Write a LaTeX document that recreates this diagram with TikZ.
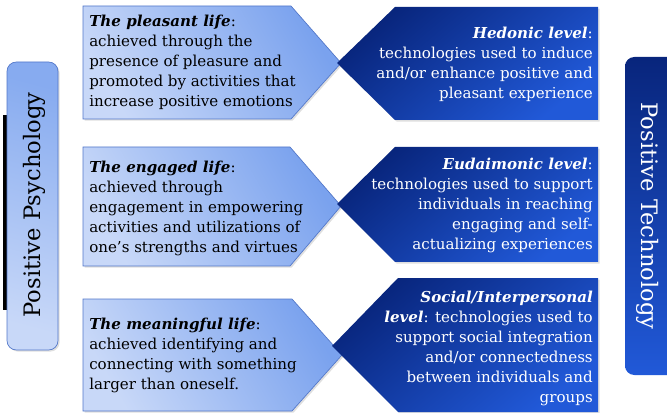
\documentclass[tikz,border=0pt]{standalone}
\usepackage{fontspec}
\setmainfont{DejaVu Serif}
\usetikzlibrary{shadows}
\definecolor{lightA}{HTML}{C8D8F8}
\definecolor{lightB}{HTML}{7AA2EE}
\definecolor{lightEdge}{HTML}{5277C9}
\definecolor{navyA}{HTML}{08257C}
\definecolor{navyB}{HTML}{2159D8}
\tikzset{
  softshadow/.style={drop shadow={opacity=0.25, shadow xshift=1.2pt, shadow yshift=-1.2pt}},
  lifebox/.style={draw=lightEdge, line width=0.5pt, softshadow,
    shading=axis, top color=lightB, bottom color=lightA, shading angle=-60},
  levelbox/.style={softshadow, shading=axis, top color=navyA, bottom color=navyB, shading angle=40},
  psybox/.style={draw=lightEdge, line width=0.5pt, rounded corners=7pt, softshadow,
    shading=axis, top color=lightB!90, bottom color=lightA, shading angle=-15},
  techbox/.style={rounded corners=7pt, shading=axis, top color=navyA, bottom color=navyB},
  lifetext/.style={align=left, inner sep=0pt, anchor=west, font=\fontsize{11.3}{15}\selectfont},
  leveltext/.style={align=right, inner sep=0pt, anchor=east, text=white, font=\fontsize{11.3}{15}\selectfont},
  sidetext/.style={inner sep=0pt, font=\fontsize{17}{20}\selectfont}
}
\newcommand{\ttl}[1]{\textbf{\textit{#1}}}
\begin{document}
\begin{tikzpicture}[x=0.75pt, y=-0.75pt]
\useasboundingbox (0,0) rectangle (667,413);

% side panels
\fill[black] (3,115) rectangle (9,310);
\path[psybox] (7,62) rectangle (58,350);
\path[techbox] (625,57) rectangle (680,375);
\node[sidetext, rotate=90] (psy) at (34,205) {Positive Psychology};
\node[sidetext, rotate=-90, text=white] (tech) at (648,216) {Positive Technology};

% arrows of the three lives
\path[lifebox] (83,6) -- (291,6) -- (341,63) -- (291,119) -- (83,119) -- cycle;
\path[lifebox] (83,147) -- (290,147) -- (341,206) -- (290,266) -- (83,266) -- cycle;
\path[lifebox] (83,299) -- (292,299) -- (342,355) -- (292,411) -- (83,411) -- cycle;

% chevrons of the three technology levels
\path[levelbox] (395,7) -- (598,7) -- (598,120) -- (395,120) -- (337,63) -- cycle;
\path[levelbox] (395,147) -- (598,147) -- (598,262) -- (395,262) -- (337,204) -- cycle;
\path[levelbox] (398,278) -- (598,278) -- (598,412) -- (398,412) -- (332,346) -- cycle;

% texts of the lives
\node[lifetext] (pleasant) at (89,62) {\ttl{The pleasant life}:\\achieved through the\\presence of pleasure and\\promoted by activities that\\increase positive emotions};
\node[lifetext] (engaged) at (89,208) {\ttl{The engaged life}:\\achieved through\\engagement in empowering\\activities and utilizations of\\one's strengths and virtues};
\node[lifetext] (meaningful) at (89,355) {\ttl{The meaningful life}:\\achieved identifying and\\connecting with something\\larger than oneself.};

% texts of the levels
\node[leveltext] (hedonic) at (593,64) {\ttl{Hedonic level}:\\technologies used to induce\\and/or enhance positive and\\pleasant experience};
\node[leveltext] (eudaimonic) at (593,205) {\ttl{Eudaimonic level}:\\technologies used to support\\individuals in reaching\\engaging and self-\\actualizing experiences};
\node[leveltext] (social) at (593,348) {\ttl{Social/Interpersonal}\\\ttl{level}: technologies used to\\support social integration\\and/or connectedness\\between individuals and\\groups};
\end{tikzpicture}
\end{document}
